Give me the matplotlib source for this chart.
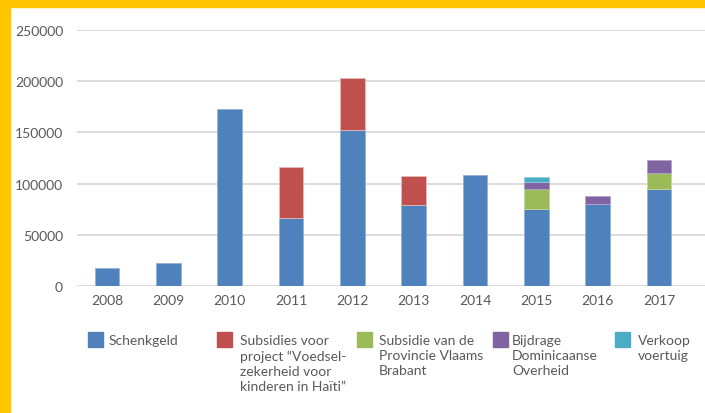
import matplotlib.pyplot as plt
import numpy as np
from matplotlib.patches import Rectangle

plt.rcParams['font.family'] = ['Lato', 'DejaVu Sans']

# data
years = ['2008', '2009', '2010', '2011', '2012', '2013', '2014', '2015', '2016', '2017']
schenkgeld = [17500, 22500, 172500, 66000, 152000, 79000, 108500, 75000, 80000, 95000]
subsidies_haiti = [0, 0, 0, 50000, 51500, 28000, 0, 0, 0, 0]
subsidie_brabant = [0, 0, 0, 0, 0, 0, 0, 19500, 0, 15500]
bijdrage_dominicaanse = [0, 0, 0, 0, 0, 0, 0, 7500, 8000, 12500]
verkoop_voertuig = [0, 0, 0, 0, 0, 0, 0, 4500, 0, 0]

series = [schenkgeld, subsidies_haiti, subsidie_brabant, bijdrage_dominicaanse, verkoop_voertuig]
labels = ['Schenkgeld',
          'Subsidies voor\nproject \u201cVoedsel-\nzekerheid voor\nkinderen in Ha\u00efti\u201d',
          'Subsidie van de\nProvincie Vlaams\nBrabant',
          'Bijdrage\nDominicaanse\nOverheid',
          'Verkoop\nvoertuig']
colors = ['#4F81BD', '#C0504D', '#9BBB59', '#8064A2', '#4BACC6']
edges = ['#95B3D7', '#E6B9B8', '#C3D69B', '#B3A2C7', '#93CDDD']

text_col = '#595959'
grid_col = '#D9D9D9'

W, H = 705, 414
fig = plt.figure(figsize=(W / 100, H / 100), dpi=100)

# yellow frame on top and left
fig.patches.append(Rectangle((0, 1 - 8 / H), 1, 8 / H, transform=fig.transFigure,
                             color='#FFC600', zorder=0))
fig.patches.append(Rectangle((0, 0), 10 / W, 1, transform=fig.transFigure,
                             color='#FFC600', zorder=0))

ax = fig.add_axes([77 / W, 1 - 287 / H, 1 - 77 / W, (287 - 31) / H])

x = np.arange(len(years))
bottom = np.zeros(len(years))
for vals, c, e in zip(series, colors, edges):
    vals = np.array(vals, dtype=float)
    keep = vals > 0  # skip empty segments so they leave no edge line
    ax.bar(x[keep], vals[keep], 0.4, bottom=bottom[keep], color=c, edgecolor=e,
           linewidth=0.6, zorder=3)
    bottom += vals

ax.set_ylim(0, 250000)
ax.set_xlim(-0.49, 9.75)
ax.set_yticks(np.arange(0, 250001, 50000))
ax.set_xticks(x)
ax.set_xticklabels(years)
ax.yaxis.grid(True, color=grid_col, linewidth=1.3, zorder=0)
ax.set_axisbelow(True)
for s in ax.spines.values():
    s.set_visible(False)
ax.tick_params(length=0, colors=text_col, labelsize=10)
ax.tick_params(axis='y', pad=10)
ax.tick_params(axis='x', pad=6)

# legend drawn by hand, five columns
sq_x = [88, 217, 357, 493, 615]
txt_x = [109, 240, 379, 512, 638]
for sx, tx, lab, c in zip(sq_x, txt_x, labels, colors):
    fig.patches.append(Rectangle((sx / W, 1 - 348 / H), 15 / W, 15 / H,
                                 transform=fig.transFigure, color=c))
    fig.text(tx / W, 1 - 335 / H, lab, ha='left', va='top', fontsize=10,
             color=text_col, linespacing=1.3)

fig.savefig('out.png', dpi=100)
